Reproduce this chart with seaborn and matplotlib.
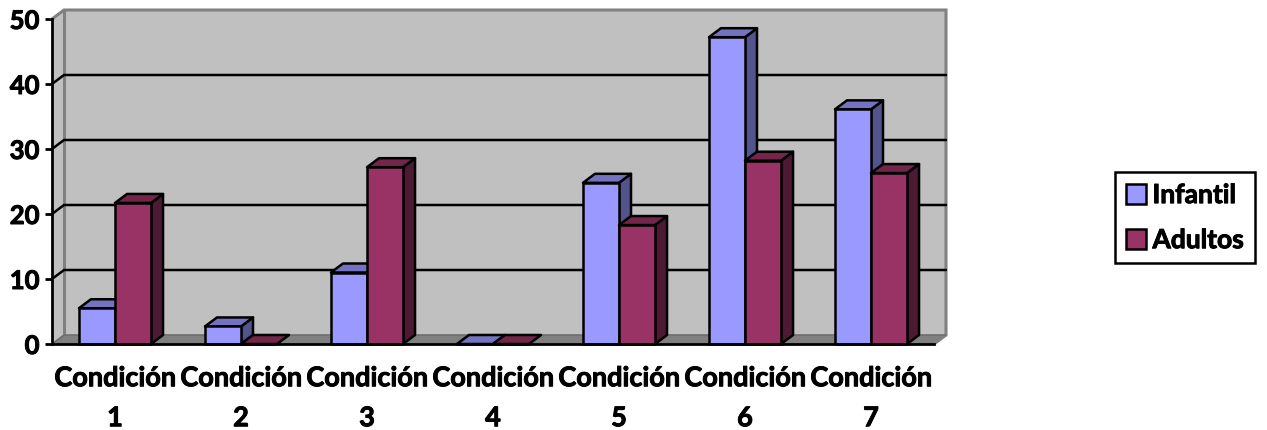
import numpy as np
import pandas as pd
import matplotlib
matplotlib.use("Agg")
import matplotlib.pyplot as plt
from matplotlib.patches import Polygon
import matplotlib.patheffects as pe
import seaborn as sns

categories = ["Condición\n1", "Condición\n2", "Condición\n3", "Condición\n4",
              "Condición\n5", "Condición\n6", "Condición\n7"]
infantil = [5.5, 2.7, 11, 0, 24.8, 47.2, 36.1]
adultos = [21.7, 0, 27.2, 0, 18.3, 28.2, 26.3]
series_names = ["Infantil", "Adultos"]
y_ticks = [0, 10, 20, 30, 40, 50]

COLORS = ["#9999FF", "#993366"]
SIDES = ["#52548C", "#4D1933"]
TOPS = ["#7373BF", "#732649"]
WALL = "#C0C0C0"
FRAME = "#808080"
DX, DY = 12 / 126, 9 / 6.5

sns.set_theme(style="white")
plt.rcParams["font.family"] = ["Lato", "DejaVu Sans"]
plt.rcParams["font.weight"] = "bold"

W, H = 1267, 431
fig = plt.figure(figsize=(W / 100, H / 100), dpi=100, facecolor="white")
ax = fig.add_axes([52 / W, (H - 345) / H, 882 / W, 325 / H])
ax.patch.set_alpha(0)

df = pd.DataFrame({
    "cond": categories * 2,
    "valor": infantil + adultos,
    "grupo": [series_names[0]] * len(categories) + [series_names[1]] * len(categories),
})
sns.barplot(data=df, x="cond", y="valor", hue="grupo", hue_order=series_names,
            palette=COLORS, width=0.572, gap=0, edgecolor="black", linewidth=1.8,
            saturation=1, ax=ax, legend=True, zorder=5)

x0, x1 = -0.5, len(categories) - 0.5
y0, y1 = y_ticks[0], y_ticks[-1]
ax.set_xlim(x0, x1)
ax.set_ylim(y0, y1)

# back wall, side wall, floor
ax.add_patch(Polygon([(x0 + DX, y0 + DY), (x1 + DX, y0 + DY), (x1 + DX, y1 + DY), (x0 + DX, y1 + DY)],
                     fc=WALL, ec="none", zorder=0.5, clip_on=False))
ax.add_patch(Polygon([(x0, y0), (x0 + DX, y0 + DY), (x0 + DX, y1 + DY), (x0, y1)],
                     fc=WALL, ec="none", zorder=0.5, clip_on=False))
ax.add_patch(Polygon([(x0, y0), (x1, y0), (x1 + DX, y0 + DY), (x0 + DX, y0 + DY)],
                     fc=FRAME, ec="none", zorder=0.6, clip_on=False))
ax.plot([x0, x0 + DX, x1 + DX, x1 + DX, x1], [y1, y1 + DY, y1 + DY, y0 + DY, y0],
        color=FRAME, lw=2.2, zorder=0.8, clip_on=False, solid_joinstyle="miter")
ax.plot([x0 + DX, x0 + DX], [y0 + DY, y1 + DY], color=FRAME, lw=2.2, zorder=0.8, clip_on=False)
ax.plot([x0, x0 + DX, x1 + DX], [y0, y0 + DY, y0 + DY], color="#6E6E6E", lw=1.2, zorder=0.8, clip_on=False)
for t in y_ticks[1:-1]:
    ax.plot([x0, x0 + DX, x1 + DX], [t, t + DY, t + DY], color="black", lw=1.8,
            zorder=1, clip_on=False)

# depth faces of each bar, derived from the bars seaborn drew
for k, cont in enumerate(ax.containers):
    for b in cont.patches:
        l, r = b.get_x(), b.get_x() + b.get_width()
        h = b.get_height()
        b.set_zorder(3 + 2 * k + 1)
        b.set_clip_on(False)
        style = dict(ec="black", lw=1.8, zorder=3 + 2 * k, clip_on=False, joinstyle="round")
        if h > 0:
            ax.add_patch(Polygon([(r, 0), (r + DX, DY), (r + DX, h + DY), (r, h)], fc=SIDES[k], **style))
        ax.add_patch(Polygon([(l, h), (r, h), (r + DX, h + DY), (l + DX, h + DY)], fc=TOPS[k], **style))

for s in ["top", "right"]:
    ax.spines[s].set_visible(False)
for s in ["left", "bottom"]:
    ax.spines[s].set_color("black")
    ax.spines[s].set_linewidth(2)
    ax.spines[s].set_zorder(10)

bold = [pe.withStroke(linewidth=0.7, foreground="black")]

ax.set_xlabel("")
ax.set_ylabel("")
ax.set_yticks(y_ticks)
ax.set_xticks(range(len(categories)))
ax.set_xticklabels(categories, fontsize=19.5, fontweight="bold", linespacing=1.8, color="black",
                   path_effects=bold)
ax.set_xticks(np.arange(x0, x1 + 0.5), minor=True)
ax.tick_params(axis="x", which="major", length=0, pad=16)
ax.tick_params(axis="x", which="minor", length=6, width=2, color="black")
ax.tick_params(axis="y", left=True, length=5, width=2, color="black", pad=4, labelsize=18.5, labelcolor="black")
for lab in ax.get_yticklabels():
    lab.set_fontweight("bold")
    lab.set_path_effects(bold)

handles, labels = ax.get_legend_handles_labels()
ax.get_legend().remove()
leg = fig.legend(handles, labels, loc="upper left", bbox_to_anchor=(1115 / W, 1 - 173 / H),
                 borderaxespad=0, frameon=True, fancybox=False, edgecolor="black", framealpha=1,
                 prop={"family": "Lato", "weight": "bold", "size": 19},
                 handlelength=0.76, handleheight=0.76, handletextpad=0.24,
                 labelspacing=0.8, borderpad=0.42)
leg.get_frame().set_linewidth(1.8)
for t in leg.get_texts():
    t.set_path_effects(bold)
    t.set_color("black")

fig.savefig("out.png", dpi=100)
